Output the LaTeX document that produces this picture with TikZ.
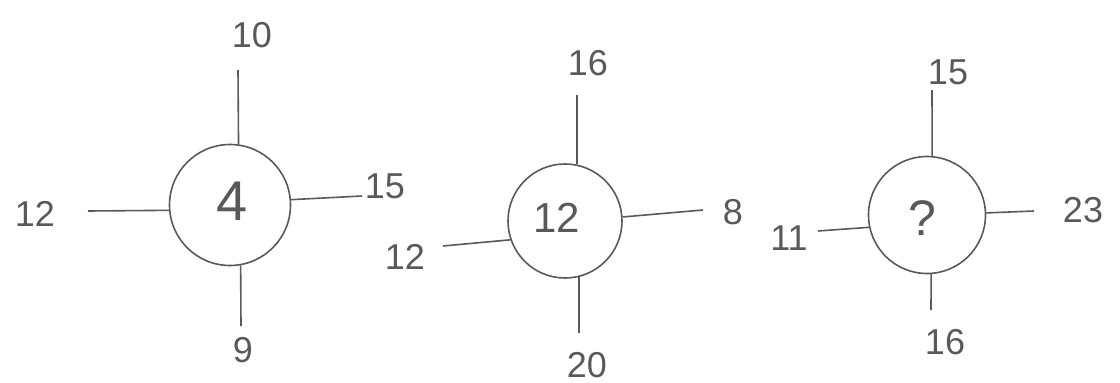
\documentclass[tikz,border=0pt]{standalone}
\usepackage{fontspec}
\setmainfont{Liberation Sans}
\begin{document}
\begin{tikzpicture}[x=1pt,y=-1pt,
  ink/.style={draw=black!65, line width=1.6pt},
  cell/.style={circle, ink, inner sep=0pt},
  num/.style={text=black!65, font=\fontsize{36}{36}\selectfont, inner sep=0pt},
  big/.style={num, font=\fontsize{#1}{#1}\selectfont},
  link/.style={ink}]
\useasboundingbox (0,0) rectangle (1120,383);
% group 1
\node[cell, minimum size=121pt] (c1) at (230,205) {};
\node[big=56] (m1) at (232,201) {4};
\coordinate (t1) at (238,70);
\coordinate (l1) at (88,211);
\coordinate (r1) at (362,196);
\coordinate (b1) at (241,326);
\node[num] (nt1) at (252,35) {10};
\node[num] (nl1) at (35,214) {12};
\node[num] (nr1) at (385,186) {15};
\node[num] (nb1) at (243,350) {9};
\draw[link] (t1) -- (c1.82);
\draw[link] (l1) -- (c1.185);
\draw[link] (r1) -- (c1.5);
\draw[link] (b1) -- (c1.-80);
% group 2
\node[cell, minimum size=114pt] (c2) at (565,221) {};
\node[big=42] (m2) at (557,218) {12};
\coordinate (t2) at (577,95);
\coordinate (l2) at (443,246);
\coordinate (r2) at (703,210);
\coordinate (b2) at (579,333);
\node[num] (nt2) at (588,63) {16};
\node[num] (nl2) at (405,257) {12};
\node[num] (nr2) at (733,212) {8};
\node[num] (nb2) at (587,365) {20};
\draw[link] (t2) -- (c2.78);
\draw[link] (l2) -- (c2.199);
\draw[link] (r2) -- (c2.4);
\draw[link] (b2) -- (c2.-76);
% group 3
\node[cell, minimum size=117pt] (c3) at (927,215) {};
\node[big=50] (m3) at (922,218) {?};
\coordinate (t3) at (932,90);
\coordinate (l3) at (818,231);
\coordinate (r3) at (1034,211);
\coordinate (b3) at (931,310);
\node[num] (nt3) at (948,72) {15};
\node[num] (nl3) at (789,238) {11};
\node[num] (nr3) at (1083,210) {23};
\node[num] (nb3) at (945,342) {16};
\draw[link] (t3) -- (c3.85);
\draw[link] (l3) -- (c3.192);
\draw[link] (r3) -- (c3.2);
\draw[link] (b3) -- (c3.-86);
\end{tikzpicture}
\end{document}
